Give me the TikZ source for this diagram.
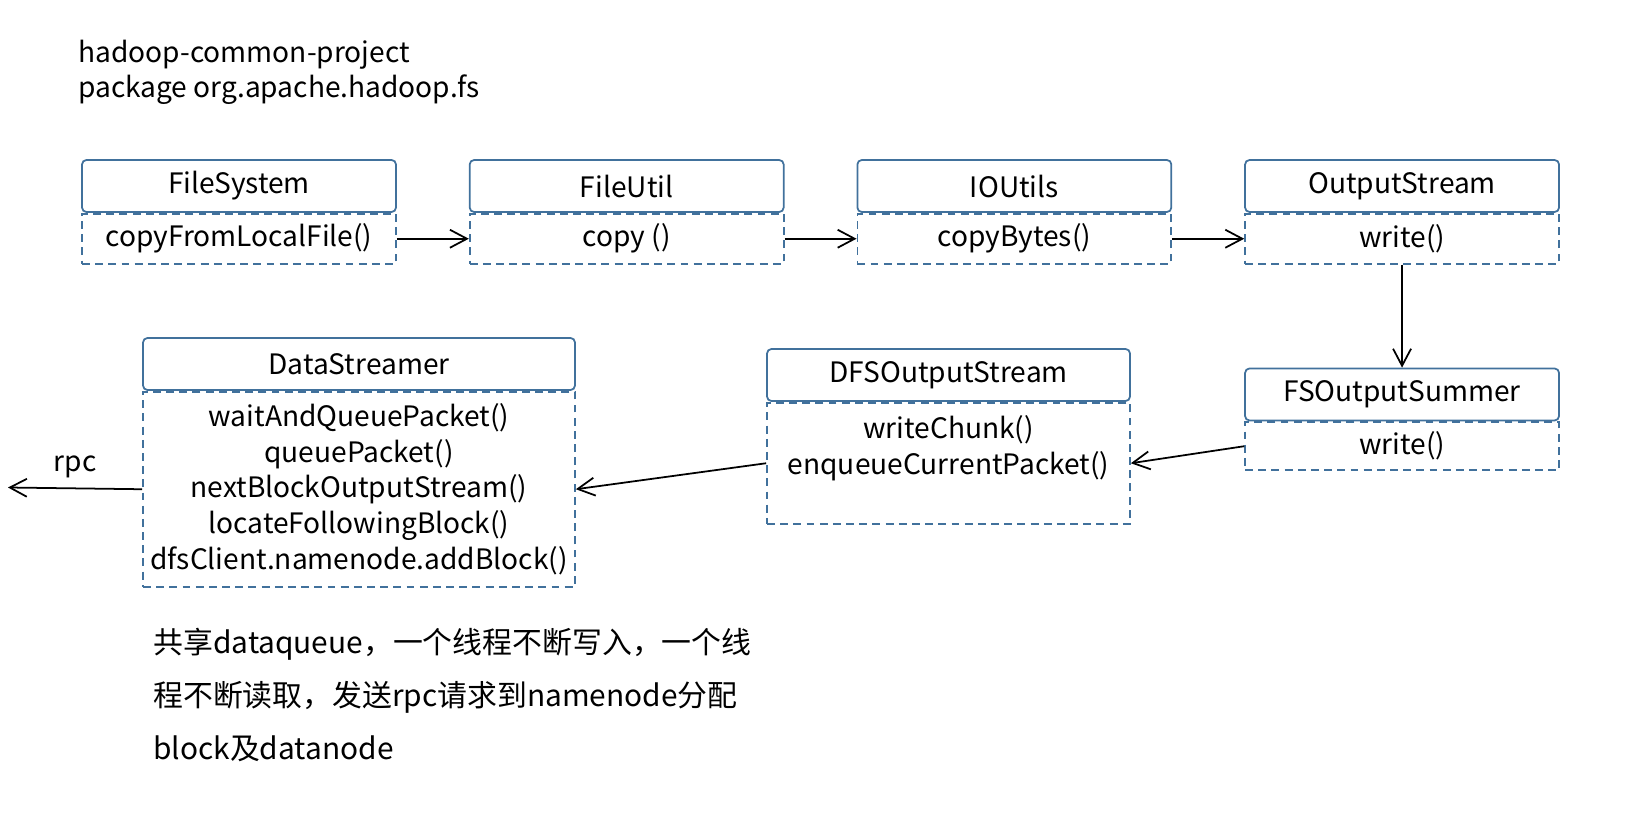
\documentclass[tikz,border=0pt]{standalone}
\usepackage{fontspec}
\setmainfont{Noto Sans CJK SC}
\usetikzlibrary{arrows.meta,positioning}
\definecolor{boxblue}{RGB}{65,113,156}

\begin{document}
\begin{tikzpicture}[x=0.02cm,y=-0.02cm,
		head/.style={draw=boxblue,line width=1pt,rounded corners=2.5pt,minimum width=#1,minimum height=1.04cm,inner sep=0pt,font=\fontsize{16}{19}\selectfont},
		body/.style={draw=boxblue,line width=1pt,dash pattern=on 4.5pt off 3pt,minimum width=#1,minimum height=1cm,inner sep=0pt,align=center,anchor=north,font=\fontsize{16}{20.4}\selectfont},
		arr/.style={line width=1pt,-{Straight Barb[length=3.4mm,width=3.6mm,line width=1pt]}},
		node distance=1.44cm]
	\useasboundingbox (0,0) rectangle (1628,817);
	\node[anchor=north west,align=left,inner sep=0pt,font=\fontsize{16}{20}\selectfont] (title) at (78,40) {hadoop-common-project\\package org.apache.hadoop.fs};
	% top row
	\node[head=6.28cm] (fs) at (239,186) {FileSystem};
	\node[body=6.28cm] (fsb) at (fs.south) {copyFromLocalFile()};
	\node[head=6.28cm,right=of fs] (fu) {FileUtil};
	\node[body=6.28cm] (fub) at (fu.south) {copy ()};
	\node[head=6.28cm,right=of fu] (io) {IOUtils};
	\node[body=6.28cm] (iob) at (io.south) {copyBytes()};
	\node[head=6.28cm,right=of io] (os) {OutputStream};
	\node[body=6.28cm] (osb) at (os.south) {write()};
	% second row
	\node[head=6.28cm,below=2.06cm of osb] (fos) {FSOutputSummer};
	\node[body=6.28cm,minimum height=0.96cm] (fosb) at (fos.south) {write()};
	\node[head=7.26cm] (dfs) at (948.5,375) {DFSOutputStream};
	\node[body=7.26cm,minimum height=2.42cm] (dfsb) at (dfs.south) {writeChunk()\\enqueueCurrentPacket()\\\mbox{}};
	\node[head=8.64cm] (ds) at (359,364) {DataStreamer};
	\node[body=8.64cm,minimum height=3.9cm] (dsb) at (ds.south) {waitAndQueuePacket()\\queuePacket()\\nextBlockOutputStream()\\locateFollowingBlock()\\dfsClient.namenode.addBlock()};
	\coordinate (rpc) at (8,487.5);
	% calls
	\draw[arr] (fsb) -- (fub);
	\draw[arr] (fub) -- (iob);
	\draw[arr] (iob) -- (osb);
	\draw[arr] (osb) -- (fos);
	\draw[arr] (fosb.west) -- (dfsb.east);
	\draw[arr] (dfsb.west) -- (dsb.east);
	\draw[arr] (dsb.west) -- node[above=2pt,font=\fontsize{16}{19}\selectfont] (rpclabel) {rpc} (rpc);
	\node[anchor=north west,align=left,inner sep=0pt,font=\fontsize{17}{30}\selectfont] (note) at (153,628) {共享dataqueue，一个线程不断写入，一个线\\程不断读取，发送rpc请求到namenode分配\\block及datanode};
\end{tikzpicture}
\end{document}
